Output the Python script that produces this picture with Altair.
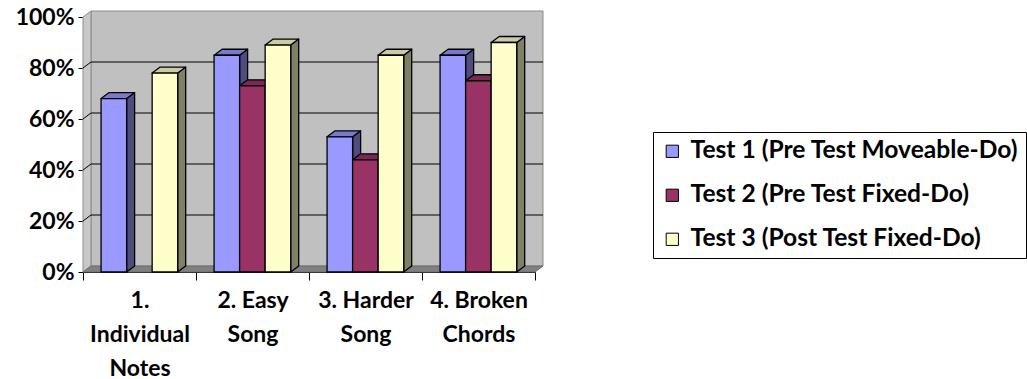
import json
import altair as alt
import pandas as pd

# ---------------- data ----------------
categories = ["1. Individual Notes", "2. Easy Song", "3. Harder Song", "4. Broken Chords"]
category_lines = [["1.", "Individual", "Notes"], ["2. Easy", "Song"], ["3. Harder", "Song"], ["4. Broken", "Chords"]]
series = ["Test 1 (Pre Test Moveable-Do)", "Test 2 (Pre Test Fixed-Do)", "Test 3 (Post Test Fixed-Do)"]
test1 = [0.68, 0.85, 0.53, 0.85]
test2 = [None, 0.73, 0.44, 0.75]
test3 = [0.78, 0.89, 0.85, 0.90]
y_ticks = [0, 0.2, 0.4, 0.6, 0.8, 1.0]
grid_levels = [0.2, 0.4, 0.6, 0.8]

# ---------------- style ----------------
front_colors = ["#9999FF", "#993366", "#FFFFCC"]
top_colors = ["#7A7ACC", "#7A2952", "#CCCCA3"]
side_colors = ["#4D4D80", "#4D1A33", "#808066"]
FONT = "Lato"
FS = 23
LEG_FS = 24.6

PLOT_W, PLOT_H = 452, 255
NCAT = len(categories)
DX = 8 / (PLOT_W / NCAT)   # depth offset in x data units
DY = 6 / PLOT_H            # depth offset in y data units
PAD = 0.16                 # gap before first bar inside a category
BW = 0.226                 # bar width in category units

values = [test1, test2, test3]

front_rows, side_rows, top_rows = [], [], []
for ci in range(NCAT):
    for si in range(len(series)):
        v = values[si][ci]
        if v is None:
            continue
        bid = f"{ci}-{si}"
        x0 = ci + PAD + si * BW
        x1 = x0 + BW
        front_rows.append(dict(bid=bid, series=series[si], x0=x0, x1=x1, top=v, base=0.0))
        side_rows += [
            dict(bid=bid, col=side_colors[si], x=x1, y=v, y2=0.0),
            dict(bid=bid, col=side_colors[si], x=x1 + DX, y=v + DY, y2=DY),
        ]
        top_rows += [
            dict(bid=bid, col=top_colors[si], y=v, x=x0, x2=x1),
            dict(bid=bid, col=top_colors[si], y=v + DY, x=x0 + DX, x2=x1 + DX),
        ]

front_df = pd.DataFrame(front_rows)
side_df = pd.DataFrame(side_rows)
top_df = pd.DataFrame(top_rows)

wall_df = pd.DataFrame([dict(x=DX, x2=NCAT + DX, y=DY, y2=1 + DY)])
left_df = pd.DataFrame([dict(x=0.0, y=1.0, y2=0.0), dict(x=DX, y=1 + DY, y2=DY)])
floor_df = pd.DataFrame([dict(y=0.0, x=0.0, x2=float(NCAT)), dict(y=DY, x=DX, x2=NCAT + DX)])
grid_rows = []
for g in grid_levels:
    grid_rows.append(dict(x=DX, x2=NCAT + DX, y=g + DY, y2=g + DY))
    grid_rows.append(dict(x=0.0, x2=DX, y=g, y2=g + DY))
grid_df = pd.DataFrame(grid_rows)

# ---------------- scales / axes ----------------
xs = alt.Scale(domain=[0, NCAT], nice=False, zero=False)
ys = alt.Scale(domain=[0, 1], nice=False, zero=False)

x_tick_values = [i * 0.5 for i in range(2 * NCAT + 1)]
lines_js = json.dumps(category_lines)
x_axis = alt.Axis(
    values=x_tick_values,
    title=None,
    grid=False,
    domain=True,
    domainColor="black",
    domainWidth=1,
    tickColor="black",
    tickSize=8,
    tickOpacity={"condition": {"test": "datum.value % 1 == 0", "value": 1}, "value": 0},
    labelExpr=f"datum.value % 1 == 0.5 ? {lines_js}[floor(datum.value)] : ''",
    labelOverlap=False,
    labelFlush=False,
    labelBound=False,
    labelFont=FONT,
    labelFontSize=FS,
    labelFontWeight="bold",
    labelColor="black",
    labelLineHeight=34,
    labelPadding=9,
)
y_axis = alt.Axis(
    values=y_ticks,
    format=".0%",
    title=None,
    grid=False,
    domain=True,
    domainColor="black",
    domainWidth=1,
    tickColor="black",
    tickSize=5,
    labelFont=FONT,
    labelFontSize=FS,
    labelFontWeight="bold",
    labelColor="black",
    labelPadding=4,
)


def X(f):
    return alt.X(f, type="quantitative", scale=xs, axis=x_axis)


def Y(f):
    return alt.Y(f, type="quantitative", scale=ys, axis=y_axis)


wall = alt.Chart(wall_df).mark_rect(fill="#C0C0C0", stroke="#8C8C8C", strokeWidth=1).encode(
    x=X("x"), x2="x2", y=Y("y"), y2="y2"
)
left_wall = alt.Chart(left_df).mark_area(fill="#C8C8C8", stroke="#8C8C8C", strokeWidth=1).encode(
    x=X("x"), y=Y("y"), y2="y2"
)
floor = alt.Chart(floor_df).mark_area(orient="horizontal", fill="#808080", stroke="#6E6E6E", strokeWidth=1).encode(
    y=Y("y"), x=X("x"), x2="x2"
)
grid = alt.Chart(grid_df).mark_rule(color="black", strokeWidth=1).encode(
    x=X("x"), x2="x2", y=Y("y"), y2="y2"
)

sides = alt.Chart(side_df).mark_area(stroke="black", strokeWidth=1.3, strokeJoin="round").encode(
    x=X("x"), y=Y("y"), y2="y2",
    fill=alt.Fill("col:N", scale=None, legend=None),
    detail="bid:N",
)
tops = alt.Chart(top_df).mark_area(orient="horizontal", stroke="black", strokeWidth=1.3, strokeJoin="round").encode(
    y=Y("y"), x=X("x"), x2="x2",
    fill=alt.Fill("col:N", scale=None, legend=None),
    detail="bid:N",
)
fronts = alt.Chart(front_df).mark_rect(stroke="black", strokeWidth=1.3).encode(
    x=X("x0"), x2="x1", y=Y("top"), y2="base",
    color=alt.Color(
        "series:N",
        scale=alt.Scale(domain=series, range=front_colors),
        legend=alt.Legend(
            title=None,
            orient="none",
            legendX=570,
            legendY=115,
            direction="vertical",
            strokeColor="black",
            fillColor="white",
            padding=7,
            rowPadding=19,
            symbolType="square",
            symbolSize=150,
            symbolStrokeColor="black",
            symbolStrokeWidth=1,
            labelFont=FONT,
            labelFontSize=LEG_FS,
            labelFontWeight="bold",
            labelColor="black",
            labelOffset=6,
            labelLimit=0,
        ),
    ),
)

chart = (
    alt.layer(wall, left_wall, floor, grid, sides, tops, fronts)
    .properties(
        width=PLOT_W,
        height=PLOT_H,
        autosize=alt.AutoSizeParams(type="none"),
        padding={"left": 83, "top": 17, "right": 1027 - 83 - PLOT_W, "bottom": 379 - 17 - PLOT_H},
        background="white",
    )
    .configure_view(stroke=None)
)

chart.save("out.html", embed_options={"renderer": "svg", "actions": False})
